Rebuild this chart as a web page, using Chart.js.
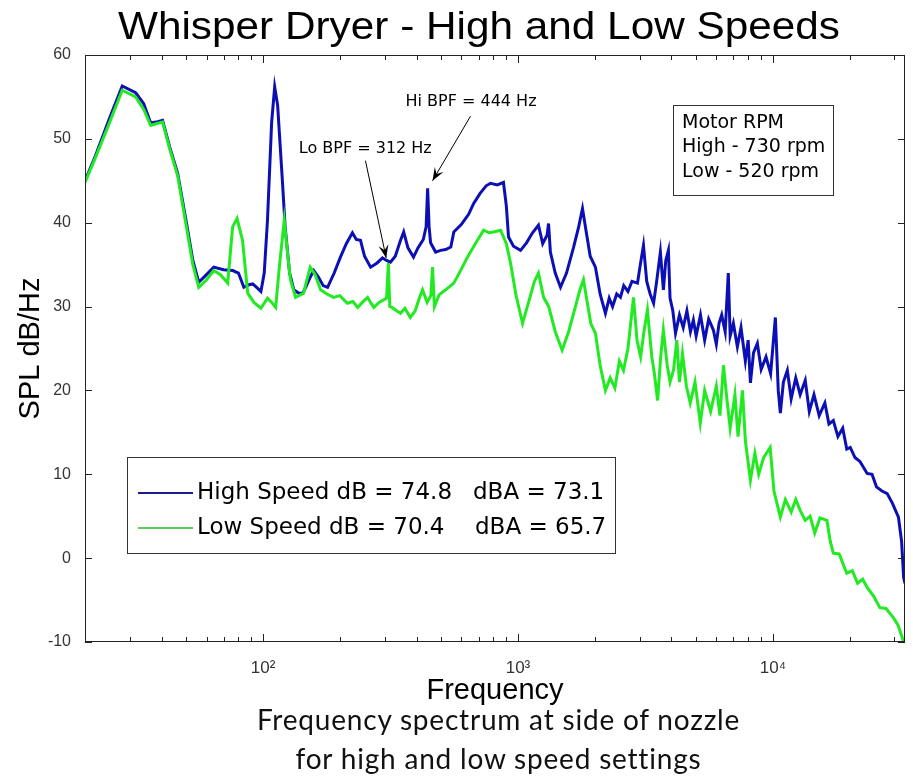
<!DOCTYPE html>
<html>
<head>
<meta charset="utf-8">
<script src="https://cdn.jsdelivr.net/npm/chart.js@4.4.1/dist/chart.umd.min.js"></script>
<style>
  body { margin: 0; background: #fff; }
  #wrap { position: relative; width: 913px; height: 783px; overflow: hidden; }
  #cap { position: absolute; left: 42px; top: 700px; width: 913px; text-align: center;
         font: 28px Lato, "Open Sans", sans-serif; line-height: 39px; color: #111; letter-spacing: 0.8px; }
</style>
</head>
<body>
<div id="wrap">
  <canvas id="spectrum" width="913" height="783"></canvas>
  <div id="cap">Frequency spectrum at side of nozzle<br>for high and low speed settings</div>
</div>
<script>
// High speed (blue) - frequency in Hz, SPL in dB/Hz
let highFreq = [
  20,22,25,28,31.6,34,36.2,38,40.3,43,
  46.2,50,53,55.9,59,64,70,76,80,84,
  88,91,95,98,101,104,108,111,114,119,
  122,127,132,138,143,148,153,158,165,172,
  179,190,201,212,224,232,241,250,264,280,
  294,305,316,330,345,356,370,389,405,425,
  436,442,448,454,475,497,520,545,560,600,
  640,670,710,750,780,830,877,900,918,960,
  1023,1080,1140,1203,1250,1300,1318,1340,1400,1468,
  1550,1650,1730,1791,1850,1920,2013,2100,2203,2280,
  2350,2440,2523,2600,2700,2800,2944,3020,3107,3200,
  3300,3405,3500,3620,3720,3800,3892,3950,4050,4150,
  4300,4450,4600,4750,4877,5000,5200,5400,5600,5843,
  6000,6150,6300,6500,6687,6800,7000,7256,7500,7800,
  8000,8166,8400,8695,9000,9400,9800,10230,10500,10700,
  11000,11400,11800,12300,12800,13400,13900,14500,15200,16000,
  16600,17270,18000,18800,19500,20130,21000,22000,23440,24500,
  25500,26800,28100,29500,31100,32000,32600,33000
];
let highSpl = [
  45,48,52.5,56.3,55.5,54.2,51.9,52,52.2,49,
  45.9,40,35.5,32.9,33.6,34.7,34.4,34.3,34,32.3,
  32.6,32.7,32.2,31.8,34,40.3,52,56.2,54,45,
  39.5,34,32,31.6,31.6,32.5,33.5,34.3,33.5,32.5,
  32.3,34,35.9,37.5,38.8,38,37.9,36,34.7,35.2,
  35.8,35.5,35.3,36,37.8,38.9,37,35.9,37,38,
  39.5,44.1,39.5,37.6,36.5,36.7,36.8,37.1,38.9,39.8,
  41,42.3,43.5,44.4,44.7,44.5,44.8,42,38.3,37.2,
  36.7,37.6,38.8,39.7,37.5,38.5,39.9,36.5,34,32.3,
  34,37,39.5,41.7,39,36,34.7,31.5,29.2,31,
  30,31.5,31.1,32.5,31.8,33,32.8,35,37.3,33,
  31.5,30.4,33,36.5,32,35.5,36.7,31,29.5,26.8,
  29,27.5,29.5,27,28.4,26.5,29,26,28.5,27.2,
  25.5,28,29,27,34,26.5,28,25.2,27.5,23.5,
  26,20.9,24.5,25.6,22.5,24,22,28.7,20,17.3,
  21,22.4,19,21.5,19.5,21.2,17.5,19.5,17,18.5,
  16,16.4,14.5,15.5,13,13.2,12,11.5,10.1,10,
  8.5,8,7.7,6.5,4.9,2,-2.3,-3
];

// Low speed (green)
let lowFreq = [
  20,22,25,28,31.6,34,36.2,38,40.3,43,
  46.2,50,53,55.9,60,64,68,72.6,75.9,79,
  83,87,92,98,104,108,112,116,121,125,
  128,134,140,144,148,153,160,168,178,189,
  200,214,225,235,245,257,265,272,285,297,
  305,310,314,320,334,346,360,378,395,410,
  422,440,455,462,470,490,520,560,600,634,
  680,733,770,802,855,900,935,980,1042,1100,
  1160,1203,1260,1320,1400,1490,1580,1680,1750,1807,
  1870,1930,2013,2100,2203,2300,2400,2500,2594,2700,
  2840,2930,3028,3120,3220,3350,3430,3530,3630,3718,
  3850,3950,4075,4200,4300,4420,4580,4740,4950,5190,
  5400,5700,6000,6200,6400,6600,6800,7100,7300,7600,
  7800,8166,8500,8800,9200,9760,10100,10700,11200,11800,
  12300,12800,13400,14000,14600,15300,16300,16800,17270,18200,
  19500,20500,21500,22500,23440,24800,26300,27800,29700,31000,
  32200,33000
];
let lowSpl = [
  44.8,47.8,52,55.8,55,53.5,51.6,51.8,52,48.8,
  45.6,39.5,35,32.3,33.2,34.3,33.8,32.8,39.5,40.5,
  37.9,31.6,30.5,29.8,31,30.5,29.9,35,40.3,36,
  33.2,31.1,31.4,31.6,33,34.7,33.8,32,31.5,31.1,
  31.3,30.4,30.6,29.9,30.5,31.1,30.4,29.9,30.5,30.8,
  31,35.2,30,29.9,29.5,29.2,29.8,28.7,29.5,31,
  32,30.5,31.3,34.7,30,31.4,32,32.8,34.5,35.9,
  37.5,39.1,38.8,38.9,39.1,37.5,35.2,31.5,28,30.5,
  33,34,31.1,30,27,24.8,27,30,32,33.2,
  30.5,28,26.8,23,20,21.5,20.3,23.5,22.4,25,
  31.1,26,24,27,29.6,24,22,18.8,24,27.2,
  23,21,22.4,26,21,24.4,20.5,18.5,21,16.1,
  20,17.5,20.5,17,23,19,15.5,19.5,14.5,20,
  14,9.3,12.5,10,12,13.2,8,4.9,7,5.5,
  7,5.7,4.5,5,3,4.8,4.5,2,0.6,0.5,
  -1.8,-1.5,-3,-2.5,-3.5,-4.5,-5.9,-6,-7.1,-8,
  -9.5,-10.5
];

let seriesNames = ["High Speed dB = 74.8", "Low Speed dB = 70.4"];
let dbaNotes = ["dBA = 73.1", "dBA = 65.7"];
let seriesColors = ["#0c10b4", "#22ea22"];
let legendColors = ["#1c1c86", "#5ccc5c"];
let xMajorTicks = [100, 1000, 10000];
let xTickLabels = ["10²", "10³", "10⁴"];
let rpmNote = ["Motor RPM", "High - 730 rpm", "Low - 520 rpm"];
let chartTitle = "Whisper Dryer - High and Low Speeds";

// annotation text spots and arrows, in Hz / dB
let bpfNotes = [
  { text: "Lo BPF = 312 Hz", at: [138, 48.8], from: [252, 47.4], to: [304, 35.8] },
  { text: "Hi BPF = 444 Hz", at: [362, 54.4], from: [651, 52.7], to: [462, 45.0] }
];

const SANS = '"Liberation Sans", Arial, sans-serif';
const DEJA = '"DejaVu Sans", sans-serif';

function arrow(ctx, x1, y1, x2, y2) {
  ctx.beginPath(); ctx.moveTo(x1, y1); ctx.lineTo(x2, y2); ctx.stroke();
  let ang = Math.atan2(y2 - y1, x2 - x1), L = 13, W = 5;
  ctx.beginPath();
  ctx.moveTo(x2, y2);
  ctx.lineTo(x2 - L * Math.cos(ang) + W * Math.sin(ang), y2 - L * Math.sin(ang) - W * Math.cos(ang));
  ctx.lineTo(x2 - 0.6 * L * Math.cos(ang), y2 - 0.6 * L * Math.sin(ang));
  ctx.lineTo(x2 - L * Math.cos(ang) - W * Math.sin(ang), y2 - L * Math.sin(ang) + W * Math.cos(ang));
  ctx.closePath(); ctx.fill();
}

const decor = {
  id: "decor",
  afterDatasetsDraw(chart) {
    const { ctx, chartArea: a, scales: { x, y } } = chart;
    ctx.save();
    ctx.strokeStyle = "#222"; ctx.lineWidth = 1;
    ctx.strokeRect(a.left + 0.5, a.top + 0.5, a.width - 1, a.height - 1);

    // inward ticks (matlab style) on all four sides
    ctx.beginPath();
    for (let d = 10; d <= 100000; d *= 10) {
      for (let m = 1; m < 10; m++) {
        let v = d * m;
        if (v < x.min || v > x.max) continue;
        let px = Math.round(x.getPixelForValue(v)) + 0.5, len = m === 1 ? 8 : 5;
        ctx.moveTo(px, a.bottom); ctx.lineTo(px, a.bottom - len);
        ctx.moveTo(px, a.top); ctx.lineTo(px, a.top + len);
      }
    }
    y.ticks.forEach(t => {
      let py = Math.round(y.getPixelForValue(t.value)) + 0.5;
      ctx.moveTo(a.left, py); ctx.lineTo(a.left + 7, py);
      ctx.moveTo(a.right, py); ctx.lineTo(a.right - 7, py);
    });
    ctx.stroke();

    // title
    ctx.fillStyle = "#000";
    ctx.font = "39px " + SANS;
    let w = ctx.measureText(chartTitle).width;
    ctx.save();
    ctx.translate(479, 28);
    ctx.scale(722 / w, 1);
    ctx.textAlign = "center"; ctx.textBaseline = "middle";
    ctx.fillText(chartTitle, 0, 0);
    ctx.restore();

    // legend box
    let lx = a.left + 42, ly = a.top + 402;
    ctx.fillStyle = "#fff";
    ctx.fillRect(lx, ly, 488, 96);
    ctx.strokeStyle = "#333";
    ctx.strokeRect(lx + 0.5, ly + 0.5, 488, 96);
    ctx.font = "23px " + DEJA;
    ctx.textBaseline = "middle"; ctx.textAlign = "left";
    seriesNames.forEach((name, i) => {
      let yy = ly + 36 + i * 35;
      ctx.strokeStyle = legendColors[i]; ctx.lineWidth = 2;
      ctx.beginPath(); ctx.moveTo(lx + 11, yy); ctx.lineTo(lx + 66, yy); ctx.stroke();
      ctx.fillStyle = "#000";
      ctx.fillText(name, lx + 70, yy);
      ctx.fillText(dbaNotes[i], lx + 346 + i * 2, yy);
    });

    // motor rpm box
    ctx.lineWidth = 1; ctx.strokeStyle = "#333";
    let bx = a.right - 232, by = a.top + 50;
    ctx.strokeRect(bx + 0.5, by + 0.5, 160, 90);
    ctx.font = "19px " + DEJA;
    rpmNote.forEach((t, i) => ctx.fillText(t, bx + 9, by + 18 + i * 24.5));

    // BPF callouts
    ctx.font = "16px " + DEJA;
    ctx.strokeStyle = "#000"; ctx.fillStyle = "#000";
    bpfNotes.forEach(n => {
      ctx.fillText(n.text, x.getPixelForValue(n.at[0]), y.getPixelForValue(n.at[1]));
      arrow(ctx, x.getPixelForValue(n.from[0]), y.getPixelForValue(n.from[1]),
                 x.getPixelForValue(n.to[0]), y.getPixelForValue(n.to[1]));
    });
    ctx.restore();
  }
};

let spectrumChart = new Chart(document.getElementById("spectrum").getContext("2d"), {
  type: "line",
  data: {
    datasets: [
      { label: seriesNames[1], data: lowFreq.map((f, i) => ({ x: f, y: lowSpl[i] })),
        borderColor: seriesColors[1], borderWidth: 3, pointRadius: 0, fill: false },
      { label: seriesNames[0], data: highFreq.map((f, i) => ({ x: f, y: highSpl[i] })),
        borderColor: seriesColors[0], borderWidth: 3, pointRadius: 0, fill: false }
    ]
  },
  options: {
    responsive: false,
    animation: false,
    layout: { padding: { top: 55, right: 8, bottom: 75, left: 0 } },
    plugins: { legend: { display: false }, tooltip: { enabled: false }, title: { display: false } },
    scales: {
      x: {
        type: "logarithmic", min: 20, max: 33000,
        grid: { display: false }, border: { display: false },
        afterBuildTicks: s => { s.ticks = xMajorTicks.map(v => ({ value: v })); },
        afterFit: s => { s.height = 66; },
        ticks: { autoSkip: false, maxRotation: 0, padding: 8, color: "#333",
                 font: { family: SANS, size: 17 }, callback: (v, i) => xTickLabels[i] },
        title: { display: true, text: "Frequency", color: "#000",
                 font: { family: SANS, size: 29 }, padding: { top: 0, bottom: 0 } }
      },
      y: {
        min: -10, max: 60,
        grid: { display: false }, border: { display: false },
        afterFit: s => { s.width = 85; },
        ticks: { stepSize: 10, padding: 6, color: "#333", font: { family: SANS, size: 16 } },
        title: { display: true, text: "SPL dB/Hz", color: "#000",
                 font: { family: SANS, size: 29 }, padding: { top: 14, bottom: 0 } }
      }
    }
  },
  plugins: [decor]
});
</script>
</body>
</html>
